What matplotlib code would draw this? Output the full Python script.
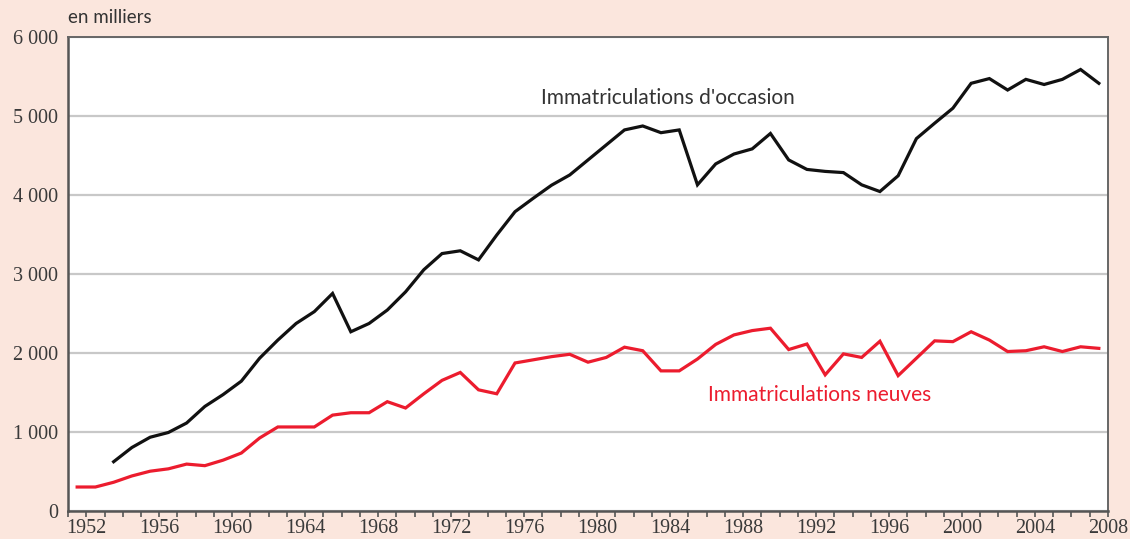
import numpy as np
import matplotlib.pyplot as plt
from matplotlib.ticker import FixedLocator

# data (thousands of registrations)
years = list(range(1952, 2009))
neuves = [300, 300, 360, 440, 500, 530, 590, 570, 640, 730,
          920, 1060, 1060, 1060, 1210, 1240, 1240, 1380, 1300, 1480,
          1650, 1750, 1530, 1480, 1870, 1910, 1950, 1980, 1880, 1940,
          2070, 2025, 1770, 1770, 1920, 2105, 2225, 2280, 2310, 2040,
          2110, 1720, 1985, 1940, 2145, 1710, 1930, 2150, 2140, 2265,
          2160, 2015, 2025, 2075, 2015, 2075, 2055]
occasion = [None, None, 620, 800, 930, 990, 1110, 1320, 1470, 1640,
            1930, 2160, 2370, 2520, 2750, 2265, 2370, 2540, 2770, 3050,
            3255, 3290, 3175, 3490, 3785, 3955, 4120, 4250, 4440, 4630,
            4820, 4870, 4785, 4820, 4125, 4390, 4515, 4580, 4775, 4440,
            4320, 4295, 4280, 4125, 4040, 4240, 4710, 4905, 5095, 5410,
            5470, 5325, 5460, 5395, 5460, 5585, 5410]
label_years = list(range(1952, 2009, 4))
y_ticks = [0, 1000, 2000, 3000, 4000, 5000, 6000]

bg = '#FBE6DD'
red = '#EC1C2E'

fig = plt.figure(figsize=(11.3, 5.39), dpi=100, facecolor=bg)
ax = fig.add_axes([0.0602, 0.0525, 0.9203, 0.8794])
ax.set_facecolor('white')

occ = np.array([np.nan if v is None else v for v in occasion], dtype=float)
ax.plot(years, occ, color='#111111', lw=2.3, solid_joinstyle='miter', zorder=3)
ax.plot(years, neuves, color=red, lw=2.3, solid_joinstyle='miter', zorder=3)

ax.set_xlim(years[0] - 0.5, years[-1] + 0.5)
ax.set_ylim(0, 6000)

ax.set_yticks(y_ticks)
ax.set_yticklabels([f'{v:,}'.replace(',', ' ') for v in y_ticks],
                   fontfamily='Liberation Serif', fontsize=14.5, color='#3a3a3a')
ax.tick_params(axis='y', length=0, pad=7)
ax.yaxis.grid(True, color='#C8C8C8', lw=1.6)
ax.set_axisbelow(True)

# ticks sit on year boundaries, labels next to them
ax.set_xticks([y + 0.5 for y in label_years])
ax.set_xticklabels([str(y) for y in label_years],
                   fontfamily='Liberation Serif', fontsize=14.5, color='#3a3a3a')
ax.xaxis.set_minor_locator(FixedLocator([y - 0.5 for y in years] + [years[-1] + 0.5]))
ax.tick_params(axis='x', which='both', direction='out', length=4, width=1.2,
               color='#555555', pad=2)

for side in ['left', 'bottom']:
    ax.spines[side].set_color('#555555')
    ax.spines[side].set_linewidth(1.8)
for side in ['top', 'right']:
    ax.spines[side].set_color('#666666')
    ax.spines[side].set_linewidth(1.4)

ax.text(1984.4, 5224, "Immatriculations d'occasion", ha='center', va='center',
        fontfamily='Lato', fontsize=15, color='#333333')
ax.text(1992.7, 1465, 'Immatriculations neuves', ha='center', va='center',
        fontfamily='Lato', fontsize=15, color=red)
fig.text(0.0602, 0.967, 'en milliers', ha='left', va='center',
         fontfamily='Lato', fontsize=13.5, color='#333333')

fig.savefig('out.png', dpi=100, facecolor=bg)
